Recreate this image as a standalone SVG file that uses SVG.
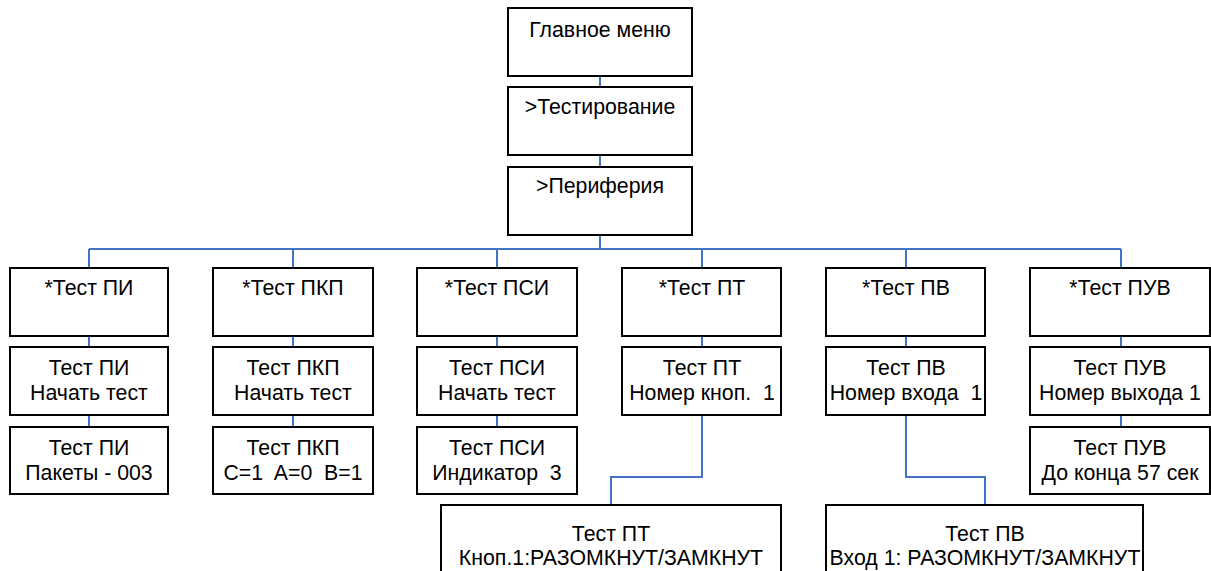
<svg xmlns="http://www.w3.org/2000/svg" width="1211" height="571" viewBox="0 0 1211 571">
  <style>
    .box { fill: #ffffff; stroke: #000000; stroke-width: 2; }
    .lbl { font-family: "Liberation Sans", Arial, sans-serif; font-size: 21.3px; fill: #000000; text-anchor: middle; white-space: pre; }
    .wire { fill: none; stroke: #4472C4; stroke-width: 2; }
  </style>
  <rect width="1211" height="571" fill="#ffffff"/>

  <!-- connectors -->
  <g id="connectors">
    <line class="wire" x1="600" y1="76" x2="600" y2="87"/>
    <line class="wire" x1="600" y1="155" x2="600" y2="167"/>
    <line class="wire" x1="600" y1="235" x2="600" y2="249"/>
    <line class="wire" x1="89" y1="249" x2="1121" y2="249"/>
    <path class="wire" d="M89 249V268M293 249V268M497 249V268M702 249V268M906 249V268M1121 249V268"/>
    <path class="wire" d="M89 336V347M293 336V347M497 336V347M702 336V347M906 336V347M1121 336V347"/>
    <path class="wire" d="M89 415V427M293 415V427M497 415V427M1121 415V427"/>
    <path class="wire" d="M702 415V477H611V505"/>
    <path class="wire" d="M906 415V477H985V505"/>
  </g>

  <!-- main chain -->
  <g id="main-menu">
    <rect class="box" x="508" y="8" width="184" height="68"/>
    <text class="lbl" x="600" y="37">Главное меню</text>
  </g>
  <g id="testing">
    <rect class="box" x="508" y="87" width="184" height="68"/>
    <text class="lbl" x="600" y="114">&gt;Тестирование</text>
  </g>
  <g id="periphery">
    <rect class="box" x="508" y="167" width="184" height="68"/>
    <text class="lbl" x="600" y="193">&gt;Периферия</text>
  </g>

  <!-- column ПИ -->
  <g id="pi-1">
    <rect class="box" x="10" y="268" width="158" height="68"/>
    <text class="lbl" x="89" y="295">*Тест ПИ</text>
  </g>
  <g id="pi-2">
    <rect class="box" x="10" y="347" width="158" height="68"/>
    <text class="lbl" x="89" y="375">Тест ПИ</text>
    <text class="lbl" x="89" y="400">Начать тест</text>
  </g>
  <g id="pi-3">
    <rect class="box" x="10" y="427" width="158" height="67"/>
    <text class="lbl" x="89" y="455">Тест ПИ</text>
    <text class="lbl" x="89" y="480">Пакеты - 003</text>
  </g>

  <!-- column ПКП -->
  <g id="pkp-1">
    <rect class="box" x="213" y="268" width="160" height="68"/>
    <text class="lbl" x="293" y="295">*Тест ПКП</text>
  </g>
  <g id="pkp-2">
    <rect class="box" x="213" y="347" width="160" height="68"/>
    <text class="lbl" x="293" y="375">Тест ПКП</text>
    <text class="lbl" x="293" y="400">Начать тест</text>
  </g>
  <g id="pkp-3">
    <rect class="box" x="213" y="427" width="160" height="67"/>
    <text class="lbl" x="293" y="455">Тест ПКП</text>
    <text class="lbl" x="293" y="480">C=1  A=0  B=1</text>
  </g>

  <!-- column ПСИ -->
  <g id="psi-1">
    <rect class="box" x="417" y="268" width="160" height="68"/>
    <text class="lbl" x="497" y="295">*Тест ПСИ</text>
  </g>
  <g id="psi-2">
    <rect class="box" x="417" y="347" width="160" height="68"/>
    <text class="lbl" x="497" y="375">Тест ПСИ</text>
    <text class="lbl" x="497" y="400">Начать тест</text>
  </g>
  <g id="psi-3">
    <rect class="box" x="417" y="427" width="160" height="67"/>
    <text class="lbl" x="497" y="455">Тест ПСИ</text>
    <text class="lbl" x="497" y="480">Индикатор  3</text>
  </g>

  <!-- column ПТ -->
  <g id="pt-1">
    <rect class="box" x="622" y="268" width="159" height="68"/>
    <text class="lbl" x="702" y="295">*Тест ПТ</text>
  </g>
  <g id="pt-2">
    <rect class="box" x="622" y="347" width="159" height="68"/>
    <text class="lbl" x="702" y="375">Тест ПТ</text>
    <text class="lbl" x="702" y="400">Номер кноп.  1</text>
  </g>
  <g id="pt-3">
    <rect class="box" x="441" y="505" width="340" height="100"/>
    <text class="lbl" x="611" y="541">Тест ПТ</text>
    <text class="lbl" x="611" y="565">Кноп.1:РАЗОМКНУТ/ЗАМКНУТ</text>
  </g>

  <!-- column ПВ -->
  <g id="pv-1">
    <rect class="box" x="826" y="268" width="159" height="68"/>
    <text class="lbl" x="906" y="295">*Тест ПВ</text>
  </g>
  <g id="pv-2">
    <rect class="box" x="826" y="347" width="159" height="68"/>
    <text class="lbl" x="906" y="375">Тест ПВ</text>
    <text class="lbl" x="906" y="400">Номер входа  1</text>
  </g>
  <g id="pv-3">
    <rect class="box" x="826" y="505" width="317" height="100"/>
    <text class="lbl" x="985" y="541">Тест ПВ</text>
    <text class="lbl" x="985" y="565">Вход 1: РАЗОМКНУТ/ЗАМКНУТ</text>
  </g>

  <!-- column ПУВ -->
  <g id="puv-1">
    <rect class="box" x="1030" y="268" width="180" height="68"/>
    <text class="lbl" x="1120" y="295">*Тест ПУВ</text>
  </g>
  <g id="puv-2">
    <rect class="box" x="1030" y="347" width="180" height="68"/>
    <text class="lbl" x="1120" y="375">Тест ПУВ</text>
    <text class="lbl" x="1120" y="400">Номер выхода 1</text>
  </g>
  <g id="puv-3">
    <rect class="box" x="1030" y="427" width="180" height="67"/>
    <text class="lbl" x="1120" y="455">Тест ПУВ</text>
    <text class="lbl" x="1120" y="480">До конца 57 сек</text>
  </g>
</svg>
